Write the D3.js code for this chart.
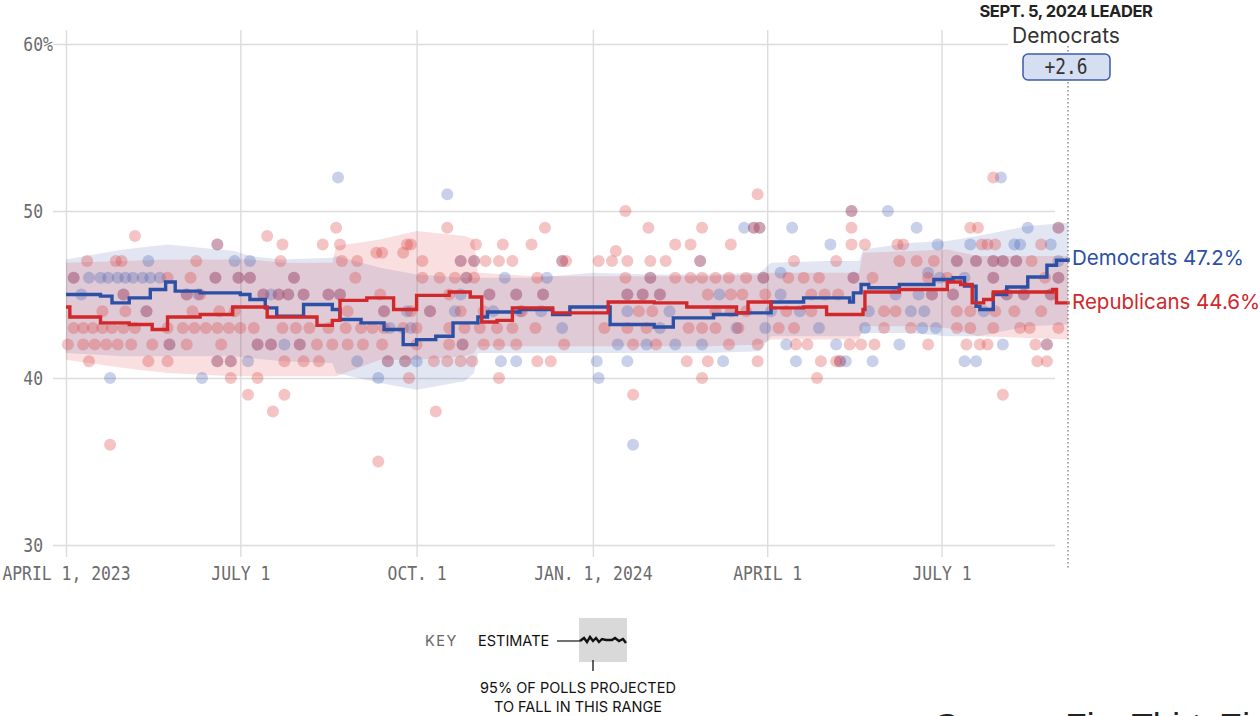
<!DOCTYPE html>
<html>
<head>
<meta charset="utf-8">
<script src="https://cdn.jsdelivr.net/npm/d3@7"></script>
<style>
  body { margin: 0; background: #fff; }
  svg { display: block; }
</style>
</head>
<body>
<svg width="1260" height="716"></svg>
<script>
// ---- data ----
var yTicks = [30, 40, 50, 60];
var xTickDates = ["2023-04-01", "2023-07-01", "2023-10-01", "2024-01-01", "2024-04-01", "2024-07-01"];
var xTickLabels = ["APRIL 1, 2023", "JULY 1", "OCT. 1", "JAN. 1, 2024", "APRIL 1", "JULY 1"];
var endDate = "2024-09-05";

// polling average (estimate)
var demLine = [
  ["2023-04-01",45.0],["2023-04-19",44.9],["2023-04-25",44.5],["2023-05-04",44.8],["2023-05-15",45.3],
  ["2023-05-23",45.75],["2023-05-28",45.2],["2023-06-10",45.1],["2023-07-01",45.0],["2023-07-06",44.7],
  ["2023-07-14",44.2],["2023-07-20",43.7],["2023-08-03",44.4],["2023-08-18",44.1],["2023-08-22",43.5],
  ["2023-09-02",43.3],["2023-09-14",42.9],["2023-09-24",42.0],["2023-10-01",42.3],["2023-10-11",42.5],
  ["2023-10-20",43.3],["2023-11-02",43.65],["2023-11-07",43.95],["2023-11-24",44.1],["2023-12-11",43.8],
  ["2023-12-20",44.25],["2024-01-03",44.25],["2024-01-10",43.2],["2024-02-02",43.05],["2024-02-12",43.6],
  ["2024-03-04",43.8],["2024-03-16",43.9],["2024-04-03",44.55],["2024-04-20",44.8],["2024-05-14",44.55],
  ["2024-05-16",45.1],["2024-05-20",45.6],["2024-05-24",45.4],["2024-06-09",45.6],["2024-06-27",45.9],
  ["2024-07-07",46.0],["2024-07-13",45.5],["2024-07-19",44.3],["2024-07-21",44.1],["2024-07-28",45.0],
  ["2024-08-04",45.45],["2024-08-15",46.05],["2024-08-25",46.75],["2024-08-30",47.05],["2024-09-05",47.2]
];
var repLine = [
  ["2023-04-01",44.25],["2023-04-03",43.65],["2023-04-19",43.3],["2023-05-04",43.2],["2023-05-16",42.9],
  ["2023-05-24",43.65],["2023-06-10",43.8],["2023-06-27",44.25],["2023-07-15",43.65],["2023-08-10",43.15],
  ["2023-08-18",43.45],["2023-08-22",44.65],["2023-09-05",44.8],["2023-09-19",44.1],["2023-10-01",44.95],
  ["2023-10-18",45.15],["2023-10-29",44.85],["2023-11-04",43.35],["2023-11-12",43.45],["2023-11-20",44.2],
  ["2023-12-11",43.9],["2024-01-09",44.55],["2024-02-02",44.5],["2024-02-19",44.25],["2024-03-08",44.25],
  ["2024-03-16",43.9],["2024-03-22",44.55],["2024-04-03",44.2],["2024-04-20",44.25],["2024-05-02",43.8],
  ["2024-05-21",44.1],["2024-05-22",45.15],["2024-06-09",45.3],["2024-07-04",45.75],["2024-07-11",45.6],
  ["2024-07-17",44.5],["2024-07-23",44.7],["2024-07-28",45.15],["2024-08-28",45.3],["2024-08-30",44.5],
  ["2024-09-05",44.6]
];

// 95% ranges
var bandDates = ["2023-04-01","2023-05-01","2023-05-24","2023-06-28","2023-07-06","2023-07-23","2023-08-18",
  "2023-08-20","2023-09-12","2023-10-01","2023-10-26","2023-10-31","2023-11-02","2023-12-01","2024-01-01",
  "2024-02-01","2024-03-01","2024-03-28","2024-04-03","2024-05-01","2024-05-19","2024-05-21","2024-06-15",
  "2024-07-04","2024-07-20","2024-08-15","2024-09-05"];
var demLow  = [41.5,41.3,41.3,41.3,41.2,41.0,40.9,40.3,39.7,39.3,39.8,40.3,41.5,41.5,41.5,41.5,41.5,41.6,42.5,42.5,42.5,42.7,42.7,42.5,42.5,43.1,43.2];
var demHigh = [47.1,47.7,48.0,47.6,47.3,47.1,47.2,47.3,46.6,46.2,46.0,46.0,46.0,46.0,46.3,46.2,46.2,46.3,46.9,47.0,47.0,47.7,48.1,48.2,48.5,49.1,49.3];
var repLow  = [41.1,40.6,40.3,40.1,40.1,40.1,40.1,40.1,41.1,41.1,41.3,41.5,41.9,41.9,41.9,41.9,41.9,42.0,42.3,42.3,42.3,43.1,43.1,43.0,42.5,42.4,42.3];
var repHigh = [46.9,47.0,47.1,47.1,47.1,46.9,46.9,47.9,48.3,48.8,48.5,48.3,46.3,46.1,46.1,46.1,46.1,46.2,46.3,46.3,46.3,47.5,47.6,47.7,47.3,47.3,47.3];

// individual polls
var demPolls = [
  ["2023-04-05",46],["2023-04-13",46],["2023-04-19",46],["2023-04-23",46],["2023-04-28",46],["2023-05-02",46],
  ["2023-05-06",46],["2023-05-11",46],["2023-05-15",46],["2023-05-20",46],["2023-05-14",47],["2023-05-01",45],
  ["2023-05-13",44],["2023-04-24",40],["2023-04-09",45],["2023-05-25",42],
  ["2023-06-19",48],["2023-06-28",47],["2023-07-06",47],["2023-06-11",40],["2023-06-03",45],["2023-06-09",45],
  ["2023-06-18",46],["2023-06-30",46],["2023-07-06",46],["2023-07-29",46],["2023-07-13",45],["2023-07-17",45],
  ["2023-07-21",45],["2023-07-26",45],["2023-08-03",45],["2023-08-16",45],["2023-08-22",45],["2023-06-19",41],
  ["2023-06-26",41],["2023-07-05",41],["2023-07-10",42],["2023-07-17",42],["2023-07-24",42],["2023-08-01",42],
  ["2023-08-21",52],
  ["2023-08-31",41],["2023-09-11",40],["2023-10-01",41],["2023-09-16",41],["2023-09-25",41],["2023-09-17",43],
  ["2023-09-28",43],["2023-09-14",44],["2023-09-26",44],["2023-10-08",44],["2023-10-17",51],["2023-10-24",45],
  ["2023-10-27",46],["2023-10-24",47],["2023-10-31",47],["2023-11-16",46],["2023-12-08",46],["2023-11-08",45],
  ["2023-11-22",45],["2023-12-06",45],["2023-11-10",44],["2023-11-24",44],["2023-12-05",44],["2023-11-14",41],
  ["2023-11-22",41],["2023-10-25",42],["2023-10-21",44],["2023-12-16",47],["2023-12-16",43],
  ["2024-01-03",41],["2024-01-04",40],["2024-01-14",42],["2024-01-19",41],["2024-01-19",44],["2024-01-19",45],
  ["2024-01-22",36],["2024-01-27",45],["2024-01-29",42],["2024-01-31",46],["2024-02-05",45],["2024-02-05",43],
  ["2024-02-10",44],["2024-02-13",42],["2024-02-26",47],["2024-02-27",42],["2024-03-07",45],["2024-03-09",41],
  ["2024-03-16",43],["2024-03-20",49],["2024-03-25",49],["2024-03-28",49],["2024-03-30",46],["2024-03-31",43],
  ["2024-04-03",44],["2024-04-08",46.3],["2024-04-08",45],["2024-04-11",42],["2024-04-14",49],["2024-04-16",41],
  ["2024-04-18",44],["2024-04-28",43],["2024-05-04",48],["2024-05-07",42],["2024-05-09",41],["2024-05-12",41],
  ["2024-05-15",50],["2024-05-16",46],["2024-05-22",43],["2024-05-24",44],["2024-05-26",41],["2024-06-03",50],
  ["2024-06-07",45],["2024-06-09",42],["2024-06-15",44],["2024-06-18",49],["2024-06-19",45],["2024-06-21",43],
  ["2024-06-22",44],["2024-06-24",46.3],["2024-06-26",45],["2024-06-28",43],["2024-06-29",48],["2024-06-30",46],
  ["2024-07-07",45],["2024-07-09",47],["2024-07-13",46],["2024-07-13",41],["2024-07-16",48],["2024-07-19",47],
  ["2024-07-19",41],["2024-07-23",44],["2024-07-28",47],["2024-07-28",46],["2024-08-01",52],["2024-08-02",47],
  ["2024-08-02",42],["2024-08-04",45],["2024-08-08",48],["2024-08-09",47],["2024-08-11",48],["2024-08-13",45],
  ["2024-08-15",49],["2024-08-25",42],["2024-08-27",48],["2024-08-27",45],["2024-08-31",49],["2024-08-31",47],
  ["2024-08-31",46]
];
var repPolls = [
  ["2023-04-02",42],["2023-04-05",46],["2023-04-05",43],["2023-04-10",43],["2023-04-10",42],["2023-04-12",47],
  ["2023-04-13",41],["2023-04-15",43],["2023-04-16",42],["2023-04-20",44],["2023-04-20",43],["2023-04-22",42],
  ["2023-04-24",36],["2023-04-25",43],["2023-04-27",47],["2023-04-28",42],["2023-04-30",47],["2023-05-01",45],
  ["2023-05-01",43],["2023-05-02",44],["2023-05-05",42],["2023-05-07",48.5],["2023-05-07",43],["2023-05-13",44],
  ["2023-05-14",41],["2023-05-16",42],["2023-05-24",46],["2023-05-24",43],["2023-05-24",41],["2023-05-25",42],
  ["2023-06-01",43],["2023-06-03",45],["2023-06-03",42],["2023-06-05",46],["2023-06-06",44],["2023-06-07",43],
  ["2023-06-08",47],["2023-06-10",45],["2023-06-13",43],["2023-06-18",46],["2023-06-19",48],["2023-06-19",43],
  ["2023-06-19",41],["2023-06-20",44],["2023-06-21",42],["2023-06-25",43],["2023-06-26",41],["2023-06-26",40],
  ["2023-06-28",44],["2023-06-30",46],["2023-07-01",43],["2023-07-05",39],["2023-07-06",46],["2023-07-08",43],
  ["2023-07-10",42],["2023-07-10",40],["2023-07-13",45],["2023-07-15",48.5],["2023-07-17",42],["2023-07-18",38],
  ["2023-07-21",45],["2023-07-22",47],["2023-07-23",48],["2023-07-23",43],["2023-07-24",41],["2023-07-24",39],
  ["2023-07-26",45],["2023-07-29",46],["2023-07-30",43],["2023-08-01",42],["2023-08-03",45],["2023-08-03",41],
  ["2023-08-06",43],["2023-08-10",42],["2023-08-11",41],["2023-08-13",48],["2023-08-16",45],["2023-08-16",43],
  ["2023-08-18",42],["2023-08-20",49],["2023-08-22",48],["2023-08-22",45],["2023-08-23",47],["2023-08-25",43],
  ["2023-08-26",44],["2023-08-26",42],["2023-08-30",46],["2023-08-31",47],
  ["2023-09-02",43],["2023-09-03",42],["2023-09-08",43],["2023-09-10",47.5],["2023-09-11",35],["2023-09-12",45],
  ["2023-09-13",47.5],["2023-09-13",42],["2023-09-14",43],["2023-09-14",44],["2023-09-16",41],["2023-09-24",47.5],
  ["2023-09-24",43],["2023-09-25",41],["2023-09-26",48],["2023-09-27",40],["2023-09-28",48],["2023-09-28",44],
  ["2023-10-01",43],["2023-10-01",42],["2023-10-04",47],["2023-10-04",46],["2023-10-08",44],["2023-10-10",41],
  ["2023-10-11",38],["2023-10-13",46],["2023-10-17",49],["2023-10-17",41],["2023-10-18",45],["2023-10-18",43],
  ["2023-10-18",42],["2023-10-21",46],["2023-10-24",47],["2023-10-24",44],["2023-10-24",41],["2023-10-25",42],
  ["2023-10-26",43],["2023-10-27",46],["2023-10-30",41],["2023-10-31",47],["2023-10-31",46],["2023-11-01",48],
  ["2023-11-03",43],["2023-11-05",44],["2023-11-05",42],["2023-11-06",47],["2023-11-08",45],["2023-11-12",43],
  ["2023-11-13",47],["2023-11-13",42],["2023-11-13",40],["2023-11-15",48],["2023-11-20",47],["2023-11-20",43],
  ["2023-11-22",45],["2023-11-22",42],["2023-11-25",44],["2023-11-30",48],["2023-12-02",43],["2023-12-03",46],
  ["2023-12-03",41],["2023-12-06",45],["2023-12-07",49],["2023-12-10",41],
  ["2023-12-16",47],["2023-12-17",42],["2023-12-18",47],["2024-01-04",47],["2024-01-07",43],["2024-01-11",47],
  ["2024-01-13",47.6],["2024-01-18",50],["2024-01-18",46],["2024-01-19",47],["2024-01-19",45],["2024-01-19",43],
  ["2024-01-22",42],["2024-01-22",39],["2024-01-25",44],["2024-01-27",45],["2024-01-29",43],["2024-01-30",49],
  ["2024-01-31",47],["2024-01-31",46],["2024-02-01",44],["2024-02-03",42],["2024-02-05",45],["2024-02-08",47],
  ["2024-02-13",48],["2024-02-13",46],["2024-02-19",41],["2024-02-20",43],["2024-02-21",48],["2024-02-21",46],
  ["2024-02-26",47],["2024-02-27",49],["2024-02-27",46],["2024-02-27",43],["2024-02-27",40],["2024-03-01",45],
  ["2024-03-01",41],["2024-03-05",46],["2024-03-05",44],["2024-03-05",43],["2024-03-12",46],["2024-03-12",42],
  ["2024-03-13",48],["2024-03-13",45],["2024-03-13",44],["2024-03-17",43],["2024-03-19",45],["2024-03-21",46],
  ["2024-03-21",44],["2024-03-25",49],["2024-03-27",51],["2024-03-27",42],["2024-03-27",41],["2024-03-28",49],
  ["2024-03-30",46],["2024-03-31",45],["2024-04-07",43],["2024-04-11",44],["2024-04-12",46],["2024-04-15",47],
  ["2024-04-15",43],["2024-04-16",42],["2024-04-20",46],["2024-04-22",42],["2024-04-24",45],["2024-04-24",44],
  ["2024-04-27",40],["2024-04-28",46],["2024-04-29",41],["2024-05-01",45],["2024-05-07",47],["2024-05-07",41],
  ["2024-05-08",45],["2024-05-09",41],["2024-05-14",42],["2024-05-15",50],["2024-05-15",49],["2024-05-15",48],
  ["2024-05-16",46],["2024-05-20",42],["2024-05-22",48],["2024-05-26",46],["2024-05-27",42],["2024-06-01",44],
  ["2024-06-01",43],["2024-06-07",44],["2024-06-08",48],["2024-06-09",47],["2024-06-11",48],["2024-06-15",43],
  ["2024-06-18",47],["2024-06-24",46],["2024-06-24",42],["2024-06-26",45],["2024-06-27",47],["2024-07-04",46],
  ["2024-07-07",45],["2024-07-09",47],["2024-07-09",44],["2024-07-09",43],["2024-07-14",42],["2024-07-16",49],
  ["2024-07-16",44],["2024-07-16",43],["2024-07-19",47],["2024-07-20",49],["2024-07-21",42],["2024-07-22",48],
  ["2024-07-25",48],["2024-07-25",42],["2024-07-28",52],["2024-07-28",47],["2024-07-28",46],["2024-07-28",43],
  ["2024-07-29",48],["2024-07-29",44],["2024-08-02",47],["2024-08-02",39],["2024-08-04",45],["2024-08-08",44],
  ["2024-08-09",47],["2024-08-11",43],["2024-08-13",45],["2024-08-16",43],["2024-08-17",47],["2024-08-19",42],
  ["2024-08-20",41],["2024-08-22",48],["2024-08-22",44],["2024-08-24",46],["2024-08-25",42],["2024-08-25",41],
  ["2024-08-27",45],["2024-08-31",49],["2024-08-31",46],["2024-08-31",43]
];

// ---- chart ----
var svg = d3.select("svg"),
    parse = d3.timeParse("%Y-%m-%d"),
    mono = "'DejaVu Sans Mono', monospace",
    sans = "Inter, 'Liberation Sans', sans-serif",
    squeeze = 0.82,
    demColor = "#2b50a5",
    repColor = "#d0282b";

var x = d3.scaleTime()
    .domain([parse(xTickDates[0]), parse(endDate)])
    .range([66, 1068]);
var y = d3.scaleLinear()
    .domain([30, 60])
    .range([545, 44]);

// horizontal grid + y labels
var yAxis = svg.append("g")
    .attr("transform", "translate(53,0)")
    .call(d3.axisLeft(y).tickValues(yTicks).tickSize(-1002).tickPadding(10)
      .tickFormat(function(d) { return d; }));
yAxis.select(".domain").remove();
yAxis.selectAll(".tick line")
    .attr("stroke", "#dcdcdc")
    .attr("stroke-width", 1.4)
    .attr("x2", function(d) { return d == 60 ? 955 : 1002; });
yAxis.selectAll(".tick text")
    .style("font-family", mono)
    .style("font-size", "20px")
    .attr("fill", "#6b6b6b")
    .attr("x", -10 / squeeze)
    .attr("transform", "scale(" + squeeze + ",1)");
yAxis.selectAll(".tick")
  .filter(function(d) { return d == 60; })
  .append("text")
    .style("font-family", mono)
    .style("font-size", "20px")
    .attr("fill", "#6b6b6b")
    .attr("x", -10 / squeeze)
    .attr("dy", "0.32em")
    .attr("text-anchor", "start")
    .attr("transform", "scale(" + squeeze + ",1)")
    .text("%");

// vertical grid + date labels
var xAxis = svg.append("g")
    .attr("transform", "translate(0,557)")
    .call(d3.axisBottom(x).tickValues(xTickDates.map(parse)).tickSize(-527).tickPadding(9)
      .tickFormat(function(d, i) { return xTickLabels[i]; }));
xAxis.select(".domain").remove();
xAxis.selectAll(".tick line")
    .attr("stroke", "#dcdcdc")
    .attr("stroke-width", 1.4);
xAxis.selectAll(".tick text")
    .style("font-family", mono)
    .style("font-size", "20px")
    .attr("fill", "#6b6b6b")
    .attr("transform", "scale(" + squeeze + ",1)");

// bands
function bandRows(lo, hi) {
  return bandDates.map(function(s, i) {
    return { date: parse(s), lo: lo[i], hi: hi[i] };
  });
}
var band = d3.area()
    .x(function(d) { return x(d.date); })
    .y0(function(d) { return y(d.lo); })
    .y1(function(d) { return y(d.hi); });

svg.append("path")
    .datum(bandRows(demLow, demHigh))
    .attr("d", band)
    .attr("fill", "#3a5ab0")
    .attr("fill-opacity", 0.15);
svg.append("path")
    .datum(bandRows(repLow, repHigh))
    .attr("d", band)
    .attr("fill", "#d93a3a")
    .attr("fill-opacity", 0.16);

// poll dots
function drawPolls(rows, fill, opacity) {
  svg.append("g").selectAll("circle")
      .data(rows)
    .join("circle")
      .attr("cx", function(d) { return x(parse(d[0])); })
      .attr("cy", function(d) { return y(d[1]); })
      .attr("r", 6)
      .attr("fill", fill)
      .attr("fill-opacity", opacity);
}
drawPolls(demPolls, "#3a5ab0", 0.28);
drawPolls(repPolls, "#d93a3a", 0.3);

// estimate lines
var line = d3.line()
    .curve(d3.curveStepAfter)
    .x(function(d) { return x(parse(d[0])); })
    .y(function(d) { return y(d[1]); });

svg.append("path")
    .datum(demLine)
    .attr("d", line)
    .attr("fill", "none")
    .attr("stroke", demColor)
    .attr("stroke-width", 3.4);
svg.append("path")
    .datum(repLine)
    .attr("d", line)
    .attr("fill", "none")
    .attr("stroke", repColor)
    .attr("stroke-width", 3.4);

// end marker
var xEnd = x(parse(endDate)),
    demLast = demLine[demLine.length - 1][1],
    repLast = repLine[repLine.length - 1][1];

svg.append("line")
    .attr("x1", xEnd).attr("x2", xEnd)
    .attr("y1", 46).attr("y2", 568)
    .attr("stroke", "#888")
    .attr("stroke-width", 1.5)
    .attr("stroke-dasharray", "1.5,2.5");

svg.append("text")
    .attr("x", 1066).attr("y", 17)
    .attr("text-anchor", "middle")
    .style("font-family", sans)
    .style("font-size", "16.5px")
    .style("font-weight", 700)
    .style("letter-spacing", "-0.4px")
    .attr("fill", "#222")
    .text("SEPT. 5, 2024 LEADER");
svg.append("text")
    .attr("x", 1066).attr("y", 43)
    .attr("text-anchor", "middle")
    .style("font-family", sans)
    .style("font-size", "21px")
    .attr("fill", "#333")
    .text("Democrats");

svg.append("rect")
    .attr("x", 1023).attr("y", 54)
    .attr("width", 87).attr("height", 26)
    .attr("rx", 5)
    .attr("fill", "#d6def1")
    .attr("stroke", "#3b5bab")
    .attr("stroke-width", 1.5);
svg.append("text")
    .attr("x", 1066 / 0.85).attr("y", 74)
    .attr("transform", "scale(0.85,1)")
    .attr("text-anchor", "middle")
    .style("font-family", mono)
    .style("font-size", "21px")
    .attr("fill", "#333")
    .text("+" + (demLast - repLast).toFixed(1));

svg.append("text")
    .attr("x", 1072).attr("y", y(demLast))
    .attr("dy", "0.36em")
    .style("font-family", sans)
    .style("font-size", "20.5px")
    .attr("fill", demColor)
    .text("Democrats " + demLast.toFixed(1) + "%");
svg.append("text")
    .attr("x", 1072).attr("y", y(repLast))
    .attr("dy", "0.36em")
    .style("font-family", sans)
    .style("font-size", "20.5px")
    .attr("fill", repColor)
    .text("Republicans " + repLast.toFixed(1) + "%");

// key
var key = svg.append("g").style("font-family", sans).style("font-size", "14.5px");
key.append("text").attr("x", 425).attr("y", 646)
    .attr("fill", "#666").style("letter-spacing", "1.5px").text("KEY");
key.append("text").attr("x", 478).attr("y", 646)
    .attr("fill", "#111").text("ESTIMATE");
key.append("rect").attr("x", 579).attr("y", 618).attr("width", 48).attr("height", 44)
    .attr("fill", "#d9d9d9");
key.append("line").attr("x1", 557).attr("x2", 580).attr("y1", 641).attr("y2", 641)
    .attr("stroke", "#111").attr("stroke-width", 1.2);
key.append("path")
    .attr("d", "M580,641 L584,638 L587,642 L590,637 L593,641 L596,638 L599,642 L602,639 L606,640 L612,640 L615,638 L619,641 L623,639 L626,643")
    .attr("fill", "none").attr("stroke", "#111").attr("stroke-width", 2.4);
key.append("line").attr("x1", 593).attr("x2", 593).attr("y1", 660).attr("y2", 671)
    .attr("stroke", "#111").attr("stroke-width", 1.3);
key.append("text").attr("x", 578).attr("y", 693).attr("text-anchor", "middle")
    .attr("fill", "#111").text("95% OF POLLS PROJECTED");
key.append("text").attr("x", 578).attr("y", 712).attr("text-anchor", "middle")
    .attr("fill", "#111").text("TO FALL IN THIS RANGE");

// source line, cut off by the frame as in the original
svg.append("text")
    .attr("x", 935).attr("y", 738)
    .style("font-family", "'Liberation Sans', Arial, sans-serif")
    .style("font-size", "35px")
    .attr("fill", "#222")
    .text("Source: FiveThirtyEight");
</script>
</body>
</html>
